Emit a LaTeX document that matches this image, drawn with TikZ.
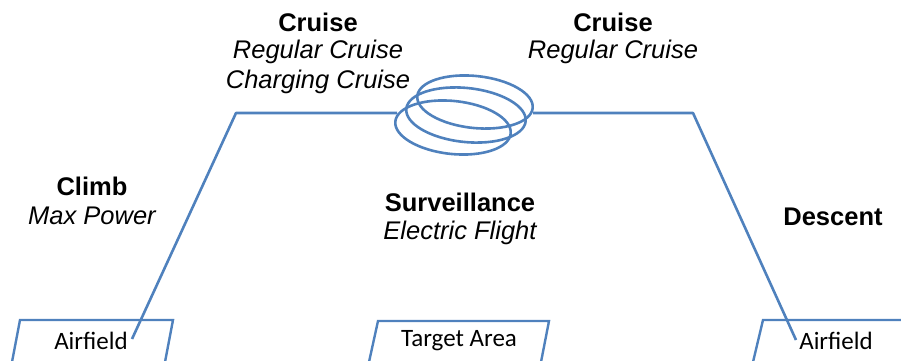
\documentclass[tikz,border=0pt]{standalone}
\usepackage{fontspec}
\setmainfont{Liberation Sans}
\newfontfamily\boxfont{Carlito}
\begin{document}
\begin{tikzpicture}[x=1pt,y=-1pt,
  route/.style={draw=pathblue,line width=2.6pt,line join=round},
  field/.style={draw=pathblue,line width=2.4pt},
  phase/.style={font=\fontsize{25.5}{30}\selectfont\bfseries,anchor=center,inner sep=0},
  mode/.style={font=\fontsize{25.5}{30}\selectfont\itshape,anchor=center,inner sep=0},
  boxlabel/.style={font=\boxfont\fontsize{25}{29}\selectfont,anchor=center,inner sep=0}]
\definecolor{pathblue}{HTML}{4F81BD}
\useasboundingbox (0,0) rectangle (901,360);
\begin{scope}
\clip (0,0) rectangle (901,360);
% ground locations
\draw[field] (12,362) -- (20,320) -- (173,320) -- (165,362);
\draw[field] (369,362) -- (378,321) -- (549,321) -- (541,362);
\draw[field] (753,362) -- (763,320) -- (905,320);
\end{scope}
\node[boxlabel] (home) at (91,341) {Airfield};
\node[boxlabel] (target) at (459,341) {Target Area};
\node[boxlabel] (dest) at (836,341) {Airfield};
% phase labels
\node[phase] (climb) at (92,186) {Climb};
\node[mode] (climbmode) at (92,216) {Max Power};
\node[phase] (cruiseA) at (318,22) {Cruise};
\node[mode] (cruiseAm1) at (318,52) {Regular Cruise};
\node[mode] (cruiseAm2) at (318,82) {Charging Cruise};
\node[phase] (cruiseB) at (613,22) {Cruise};
\node[mode] (cruiseBm) at (613,52) {Regular Cruise};
\node[phase] (surv) at (460,202) {Surveillance};
\node[mode] (survm) at (460,233) {Electric Flight};
\node[phase] (descent) at (833,217) {Descent};
% flight path
\coordinate (takeoff) at (132,339);
\coordinate (topclimb) at (236,113);
\coordinate (loopin) at (397,113);
\coordinate (loopout) at (533,113);
\coordinate (topdesc) at (693,113);
\coordinate (landing) at (796,340);
\draw[route] (takeoff) -- (topclimb) -- (loopin);
\draw[route] (loopout) -- (topdesc) -- (landing);
% loiter orbits
\draw[route] (475,102) ellipse[x radius=58,y radius=26,rotate=-6];
\draw[route] (466,115) ellipse[x radius=60,y radius=27,rotate=-6];
\draw[route] (453,127.5) ellipse[x radius=58,y radius=26.5,rotate=-6];
\end{tikzpicture}
\end{document}
